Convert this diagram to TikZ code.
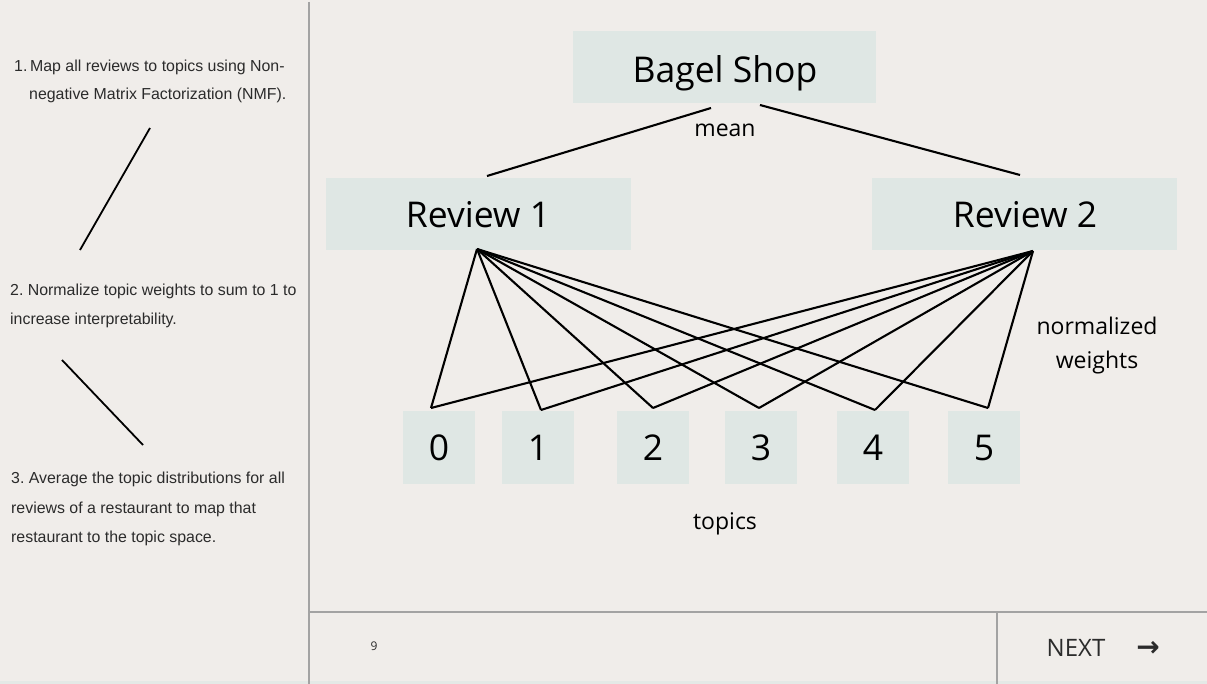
\documentclass[tikz,border=0pt]{standalone}
\usepackage{fontspec}
\setmainfont{Liberation Sans}
\newfontfamily\osans{Open Sans}
\newfontfamily\dejavu{DejaVu Sans}
\frenchspacing
\definecolor{bg}{HTML}{F0EDEA}
\definecolor{boxc}{HTML}{DFE7E4}
\definecolor{rule}{HTML}{A3A3A3}
\definecolor{txt}{HTML}{2B2B2B}
\begin{document}
\begin{tikzpicture}[x=1pt,y=-1pt,
  big/.style={font=\osans\fontsize{35.5}{40}\selectfont,text=black},
  lbl/.style={font=\osans\fontsize{23}{34}\selectfont,text=black,inner sep=0pt},
  side/.style={font=\fontsize{15.9}{18}\selectfont\frenchspacing,text=txt,anchor=west,inner sep=0pt},
  wire/.style={line width=2.1pt,black},
  panel/.style={line width=1.3pt,rule}]
\fill[bg] (0,0) rectangle (1207,684);
\useasboundingbox (0,0) rectangle (1207,684);
\fill[boxc!70!bg] (0,681) rectangle (1207,684);
% panel rules
\coordinate (va) at (309,2);
\coordinate (vb) at (309,684);
\coordinate (ha) at (309,612);
\coordinate (hb) at (1207,612);
\coordinate (vc) at (997,612);
\coordinate (vd) at (997,684);
\draw[panel] (va) -- (vb);
\draw[panel] (ha) -- (hb);
\draw[panel] (vc) -- (vd);
% left side text
\node[side] (p1a) at (14,67) {1.\,Map all reviews to topics using Non-};
\node[side] (p1b) at (29,95) {negative Matrix Factorization (NMF).};
\node[side] (p2a) at (10,291) {2. Normalize topic weights to sum to 1 to};
\node[side] (p2b) at (10,320) {increase interpretability.};
\node[side] (p3a) at (11,479) {3. Average the topic distributions for all};
\node[side] (p3b) at (11,509) {reviews of a restaurant to map that};
\node[side] (p3c) at (11,538) {restaurant to the topic space.};
\coordinate (s1a) at (150,128);
\coordinate (s1b) at (80,250);
\coordinate (s2a) at (62,360);
\coordinate (s2b) at (143,445);
\draw[line width=1.8pt,black] (s1a) -- (s1b);
\draw[line width=1.8pt,black] (s2a) -- (s2b);
% boxes
\fill[boxc] (573,31) rectangle (876,103);
\node[big,inner sep=0pt] (bagel) at (725,73) {Bagel Shop};
\fill[boxc] (326,178) rectangle (631,250);
\node[big,inner sep=0pt] (rev1) at (478,215) {Review 1};
\fill[boxc] (872,178) rectangle (1177,250);
\node[big,inner sep=0pt] (rev2) at (1025,215) {Review 2};
% topic boxes
\foreach \n/\xa/\xc in {0/403/439,1/502/538,2/617/653,3/725/761,4/837/873,5/948/984}{
  \fill[boxc] (\xa,411) rectangle ++(72,73);
  \node[big,inner sep=0pt] (t\n) at (\xc,448) {\n};
}
% labels
\node[lbl] (mean) at (725,130) {mean};
\node[lbl,align=center] (norm) at (1097,346) {normalized\\weights};
\node[lbl] (topics) at (725,524) {topics};
% connectors
\coordinate (bl) at (711,108);
\coordinate (br) at (760,105);
\coordinate (r1t) at (487,176);
\coordinate (r2t) at (1020,175);
\draw[wire] (bl) -- (r1t);
\draw[wire] (br) -- (r2t);
\coordinate (r1) at (477,249);
\coordinate (r2) at (1033,251);
\coordinate (e0) at (431,408);
\coordinate (e1) at (541,410);
\coordinate (e2) at (653,408);
\coordinate (e3) at (759,408);
\coordinate (e4) at (875,410);
\coordinate (e5) at (988,408);
\foreach \k in {0,...,5}{
  \draw[wire] (r1) -- (e\k);
  \draw[wire] (r2) -- (e\k);
}
% footer
\node[font=\osans\fontsize{12}{14}\selectfont,text=txt,inner sep=0pt] (pg) at (374,646) {9};
\node[font=\osans\fontsize{24}{28}\selectfont,text=txt,inner sep=0pt] (next) at (1076,648) {NEXT};
\node[font=\dejavu\bfseries\fontsize{28}{32}\selectfont,text=txt,inner sep=0pt] (arr) at (1148,649) {→};
\end{tikzpicture}
\end{document}
